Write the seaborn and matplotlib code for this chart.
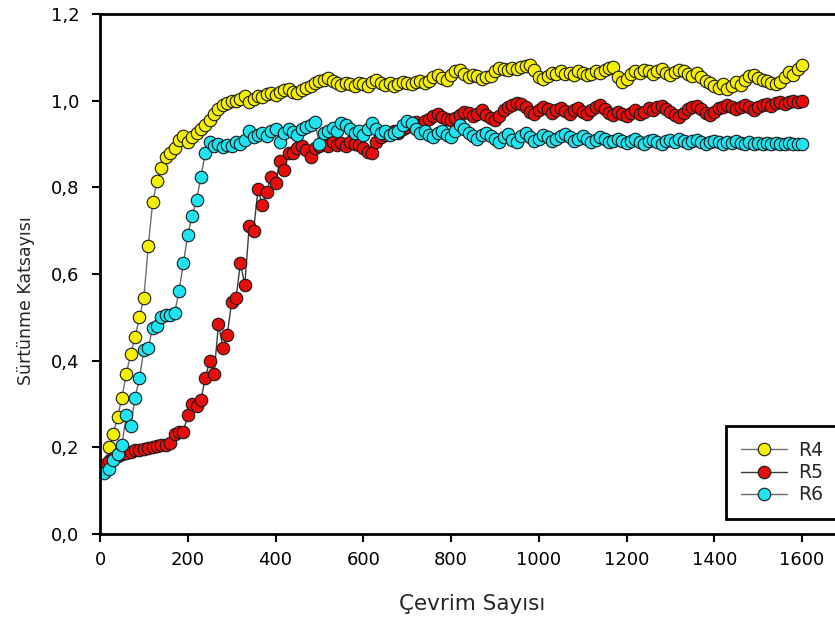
import matplotlib
matplotlib.use("Agg")
import matplotlib.pyplot as plt
import pandas as pd
import seaborn as sns
from matplotlib.ticker import FuncFormatter, MultipleLocator

# Cycle counts at which the friction coefficient was recorded
cycles = list(range(10, 1601, 10))

r4 = [
    0.160, 0.200, 0.230, 0.270, 0.315, 0.370, 0.415, 0.455, 0.500, 0.545,
    0.665, 0.765, 0.815, 0.845, 0.870, 0.880, 0.890, 0.910, 0.918, 0.905,
    0.915, 0.925, 0.935, 0.945, 0.955, 0.970, 0.980, 0.990, 0.995, 1.000,
    1.000, 1.005, 1.010, 0.998, 1.005, 1.010, 1.008, 1.015, 1.018, 1.012,
    1.020, 1.025, 1.028, 1.020, 1.017, 1.025, 1.030, 1.035, 1.040, 1.045,
    1.048, 1.052, 1.045, 1.040, 1.036, 1.040, 1.038, 1.035, 1.040, 1.038,
    1.035, 1.042, 1.048, 1.040, 1.036, 1.040, 1.035, 1.038, 1.042, 1.040,
    1.038, 1.042, 1.045, 1.040, 1.045, 1.055, 1.060, 1.052, 1.048, 1.060,
    1.068, 1.070, 1.062, 1.055, 1.060, 1.058, 1.050, 1.055, 1.058, 1.068,
    1.075, 1.072, 1.070, 1.075, 1.072, 1.078, 1.080, 1.082, 1.070, 1.055,
    1.050, 1.058, 1.065, 1.062, 1.068, 1.062, 1.065, 1.060, 1.068, 1.065,
    1.060, 1.062, 1.068, 1.065, 1.070, 1.075, 1.078, 1.055, 1.042, 1.050,
    1.062, 1.068, 1.065, 1.070, 1.068, 1.062, 1.068, 1.072, 1.065, 1.060,
    1.066, 1.070, 1.068, 1.062, 1.058, 1.064, 1.055, 1.045, 1.040, 1.035,
    1.030, 1.038, 1.028, 1.035, 1.042, 1.036, 1.048, 1.058, 1.060, 1.052,
    1.048, 1.045, 1.040, 1.038, 1.042, 1.055, 1.066, 1.060, 1.072, 1.082,
]

r5 = [
    0.160, 0.168, 0.175, 0.180, 0.185, 0.188, 0.190, 0.193, 0.195, 0.197,
    0.199, 0.200, 0.202, 0.205, 0.205, 0.210, 0.230, 0.235, 0.236, 0.275,
    0.300, 0.295, 0.310, 0.360, 0.400, 0.370, 0.485, 0.430, 0.460, 0.535,
    0.545, 0.625, 0.575, 0.710, 0.700, 0.795, 0.760, 0.790, 0.825, 0.810,
    0.860, 0.840, 0.880, 0.880, 0.890, 0.895, 0.885, 0.870, 0.890, 0.895,
    0.900, 0.895, 0.905, 0.898, 0.902, 0.895, 0.905, 0.900, 0.898, 0.890,
    0.882, 0.880, 0.905, 0.915, 0.920, 0.925, 0.930, 0.925, 0.935, 0.940,
    0.945, 0.950, 0.945, 0.952, 0.958, 0.965, 0.970, 0.962, 0.958, 0.955,
    0.960, 0.968, 0.975, 0.972, 0.965, 0.970, 0.978, 0.968, 0.960, 0.955,
    0.965, 0.978, 0.985, 0.990, 0.995, 0.992, 0.985, 0.975, 0.970, 0.978,
    0.985, 0.980, 0.972, 0.978, 0.982, 0.976, 0.970, 0.978, 0.982, 0.975,
    0.970, 0.978, 0.985, 0.990, 0.980, 0.972, 0.968, 0.975, 0.970, 0.965,
    0.972, 0.978, 0.970, 0.975, 0.982, 0.978, 0.985, 0.988, 0.980, 0.975,
    0.968, 0.962, 0.972, 0.980, 0.985, 0.988, 0.980, 0.972, 0.968, 0.975,
    0.982, 0.986, 0.990, 0.985, 0.980, 0.985, 0.990, 0.985, 0.978, 0.985,
    0.990, 0.992, 0.988, 0.994, 0.996, 0.992, 0.997, 1.000, 0.998, 1.000,
]

r6 = [
    0.140, 0.150, 0.170, 0.185, 0.205, 0.275, 0.250, 0.315, 0.360, 0.425,
    0.430, 0.475, 0.480, 0.500, 0.505, 0.505, 0.510, 0.560, 0.625, 0.690,
    0.735, 0.770, 0.825, 0.880, 0.905, 0.895, 0.900, 0.892, 0.898, 0.895,
    0.905, 0.900, 0.910, 0.930, 0.915, 0.920, 0.925, 0.918, 0.930, 0.935,
    0.905, 0.925, 0.935, 0.928, 0.920, 0.935, 0.940, 0.945, 0.950, 0.900,
    0.925, 0.930, 0.938, 0.930, 0.948, 0.945, 0.935, 0.925, 0.930, 0.920,
    0.935, 0.948, 0.935, 0.925, 0.930, 0.920, 0.925, 0.930, 0.945, 0.952,
    0.948, 0.935, 0.925, 0.930, 0.920, 0.915, 0.925, 0.930, 0.920, 0.915,
    0.930, 0.945, 0.935, 0.925, 0.918, 0.912, 0.920, 0.925, 0.918, 0.912,
    0.905, 0.915, 0.922, 0.910, 0.905, 0.918, 0.925, 0.915, 0.908, 0.912,
    0.920, 0.915, 0.908, 0.912, 0.918, 0.922, 0.915, 0.908, 0.912, 0.918,
    0.912, 0.905, 0.910, 0.915, 0.912, 0.905, 0.908, 0.912, 0.906, 0.902,
    0.908, 0.912, 0.905, 0.900, 0.906, 0.910, 0.905, 0.900, 0.906, 0.910,
    0.905, 0.912, 0.908, 0.902, 0.906, 0.910, 0.905, 0.900, 0.904, 0.908,
    0.904, 0.900, 0.905, 0.902, 0.906, 0.903, 0.900, 0.904, 0.901, 0.903,
    0.900, 0.902, 0.900, 0.903, 0.900, 0.901, 0.902, 0.900, 0.901, 0.900,
]

series_names = ["R4", "R5", "R6"]
series_values = [r4, r5, r6]
x_ticks = [0, 200, 400, 600, 800, 1000, 1200, 1400, 1600]
y_ticks = [0.0, 0.2, 0.4, 0.6, 0.8, 1.0, 1.2]
x_title = "Çevrim Sayısı"
y_title = "Sürtünme Katsayısı"

face_colors = {"R4": "#f5f000", "R5": "#e60d0d", "R6": "#1fe3ee"}
line_colors = {"R4": "#707070", "R5": "#3c3c3c", "R6": "#6a6a6a"}

frames = []
for name, vals in zip(series_names, series_values):
    frames.append(pd.DataFrame({"cycle": cycles, "mu": vals, "series": name}))
df = pd.concat(frames, ignore_index=True)

sns.set_style("ticks")
plt.rcParams["font.family"] = ["DejaVu Sans"]

W, H = 835, 623
fig = plt.figure(figsize=(W / 100, H / 100), dpi=100)
ax = fig.add_axes([100 / W, (H - 534) / H, (W - 100) / W, (534 - 14) / H])

for name in series_names:
    sub = df[df["series"] == name]
    sns.lineplot(
        data=sub, x="cycle", y="mu", ax=ax,
        color=line_colors[name], linewidth=1.0,
        marker="o", markersize=9.0,
        markerfacecolor=face_colors[name],
        markeredgecolor="#1a1a1a", markeredgewidth=0.8,
        label=name, legend=False, sort=False,
    )

ax.set_xlim(0, 1675)
ax.set_ylim(0, 1.2)
ax.xaxis.set_major_locator(MultipleLocator(200))
ax.yaxis.set_major_locator(MultipleLocator(0.2))
ax.set_xticks(x_ticks)
ax.set_yticks(y_ticks)
ax.yaxis.set_major_formatter(FuncFormatter(lambda v, p: f"{v:.1f}".replace(".", ",")))

for side in ["left", "bottom", "top"]:
    ax.spines[side].set_linewidth(2.0)
    ax.spines[side].set_color("black")
ax.spines["right"].set_visible(False)

ax.tick_params(axis="x", direction="out", length=6, width=1.5, pad=6,
               labelsize=13, colors="black")
ax.tick_params(axis="y", direction="out", length=6, width=1.5, pad=9,
               labelsize=13, colors="black")
ax.tick_params(top=False, right=False)

ax.set_xlabel(x_title, fontsize=15.5, va="top")
ax.xaxis.set_label_coords((472 - 100) / 735, (534 - 594) / 520)
ax.set_ylabel(y_title, fontsize=12.5)
ax.yaxis.set_label_coords((35 - 100) / 735, (534 - 301) / 520)

leg = ax.legend(
    loc="upper left",
    bbox_to_anchor=(726 / W, 1 - 426 / H),
    bbox_transform=fig.transFigure,
    borderaxespad=0, borderpad=0.8, labelspacing=0.17,
    handlelength=2.45, handletextpad=0.6, numpoints=1,
    fontsize=13.5, frameon=True, fancybox=False, framealpha=1,
    edgecolor="black",
)
leg.get_frame().set_linewidth(2.0)

fig.savefig("out.png", dpi=100, facecolor="white")
